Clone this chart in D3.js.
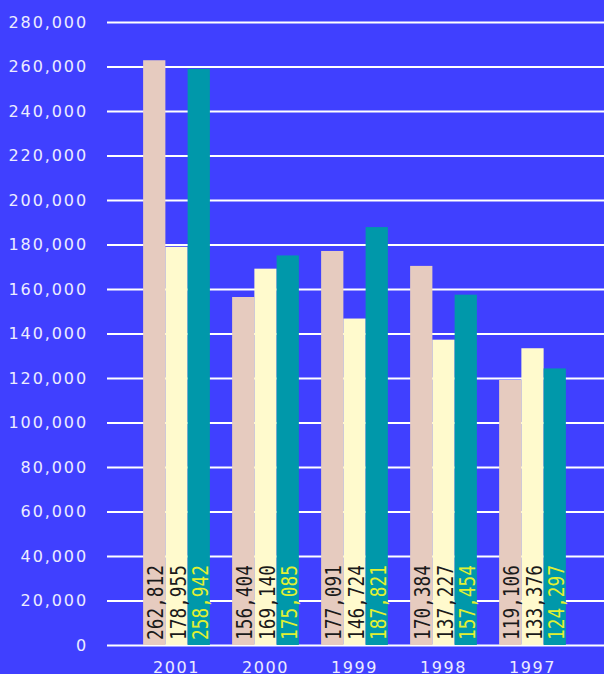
<!DOCTYPE html>
<html>
<head>
<meta charset="utf-8">
<script src="https://cdn.jsdelivr.net/npm/d3@7"></script>
<style>
  html, body { margin: 0; padding: 0; background: #4040ff; }
  svg { display: block; }
</style>
</head>
<body>
<div id="chart"></div>
<script>
var years = ["2001", "2000", "1999", "1998", "1997"];
var seriesA = [262812, 156404, 177091, 170384, 119106];
var seriesB = [178955, 169140, 146724, 137227, 133376];
var seriesC = [258942, 175085, 187821, 157454, 124297];
var seriesKeys = ["a", "b", "c"];
var yTicks = [0, 20000, 40000, 60000, 80000, 100000, 120000, 140000,
              160000, 180000, 200000, 220000, 240000, 260000, 280000];

var barColors = { a: "#e6cbbf", b: "#fffacd", c: "#0098aa" };
var textColors = { a: "#1a1a1a", b: "#1a1a1a", c: "#e2f032" };

var width = 604, height = 674;

var data = years.map(function(y, i) {
    return { year: y, a: seriesA[i], b: seriesB[i], c: seriesC[i] };
});

var svg = d3.select("#chart").append("svg")
    .attr("width", width)
    .attr("height", height);

svg.append("rect")
    .attr("width", width)
    .attr("height", height)
    .attr("fill", "#4040ff");

var yScale = d3.scaleLinear().domain([0, 280000]).range([645, 22]);
var x0 = d3.scaleBand().domain(years).range([132, 577])
    .paddingInner(0.25).paddingOuter(0.125);
var x1 = d3.scaleBand().domain(seriesKeys).range([0, x0.bandwidth()]);

// y axis with gridlines
var yAxis = d3.axisLeft(yScale)
    .tickValues(yTicks)
    .tickFormat(d3.format(","))
    .tickSizeInner(-(604 - 107))
    .tickSizeOuter(0)
    .tickPadding(19);

var gy = svg.append("g")
    .attr("transform", "translate(107,0)")
    .call(yAxis);
gy.select(".domain").remove();
gy.selectAll(".tick line")
    .attr("stroke", "#ffffff")
    .attr("stroke-width", 2);
gy.selectAll(".tick text")
    .attr("fill", "#ececff")
    .style("font-family", "'DejaVu Sans', Verdana, sans-serif")
    .style("font-size", "16px")
    .style("letter-spacing", "1.9px");

// bars
var group = svg.selectAll(".group")
    .data(data)
    .enter().append("g")
    .attr("class", "group")
    .attr("transform", function(d) { return "translate(" + x0(d.year) + ",0)"; });

group.selectAll("rect")
    .data(function(d) { return seriesKeys.map(function(k) { return { key: k, value: d[k] }; }); })
    .enter().append("rect")
    .attr("x", function(d) { return x1(d.key); })
    .attr("y", function(d) { return yScale(d.value); })
    .attr("width", x1.bandwidth())
    .attr("height", function(d) { return yScale(0) - yScale(d.value); })
    .attr("fill", function(d) { return barColors[d.key]; });

group.selectAll("text")
    .data(function(d) { return seriesKeys.map(function(k) { return { key: k, value: d[k] }; }); })
    .enter().append("text")
    .attr("transform", function(d) {
        return "translate(" + (x1(d.key) + x1.bandwidth() - 2) + "," + (yScale(0) - 5) + ") rotate(-90)";
    })
    .attr("textLength", 75)
    .attr("lengthAdjust", "spacingAndGlyphs")
    .attr("fill", function(d) { return textColors[d.key]; })
    .style("font-family", "'DejaVu Sans Mono', 'Liberation Mono', monospace")
    .style("font-size", "21px")
    .text(function(d) { return d3.format(",")(d.value); });

// x axis
var xAxis = d3.axisBottom(x0).tickSize(0).tickPadding(17);
var gx = svg.append("g")
    .attr("transform", "translate(0,645)")
    .call(xAxis);
gx.select(".domain").remove();
gx.selectAll(".tick text")
    .attr("fill", "#ececff")
    .style("font-family", "'DejaVu Sans', Verdana, sans-serif")
    .style("font-size", "16px")
    .style("letter-spacing", "1.6px");
</script>
</body>
</html>
